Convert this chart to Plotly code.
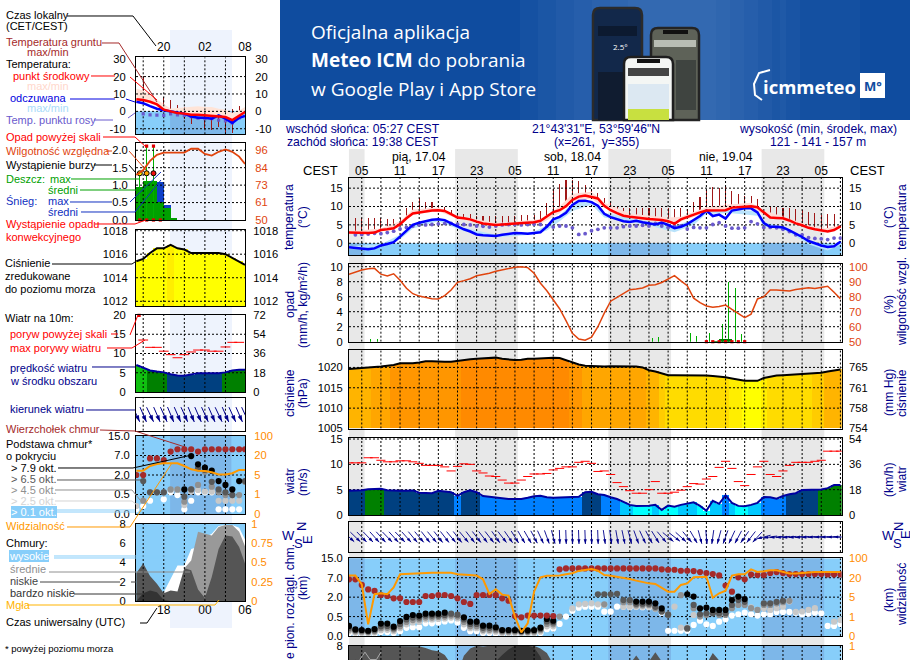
import math
import plotly.graph_objects as go

W, H = 910, 660
FONT = "Liberation Sans"
NAVY = "#00008B"
SKY = "#87CEFA"
SKY_NIGHT = "#7DB7E9"
ORANGE = "#FF8C00"
RH_COL = "#E0440E"
TICK = 11.2
LEG = 11

# ---------- main meteogram data (hourly, hour 0 = 05:00 CEST 17.04) ----------
hours = list(range(-2, 76))
hour_ticks = list(range(0, 73, 6))
hour_labels = ["05", "11", "17", "23", "05", "11", "17", "23", "05", "11", "17", "23", "05"]
grid_hours = list(range(0, 76, 3))
night_spans = [(-2, 0.45), (14.63, 24.45), (38.63, 48.45), (62.63, 72.45)]

temp_mid = [2.9,2.8,2.8,2.8,2.9,3.6,3.8,4.1,5.2,6.8,8.1,8.4,8.7,8.9,9.0,8.8,7.9,7.0,6.8,6.5,5.9,5.4,5.2,5.0,5.1,5.2,5.3,5.4,5.5,5.7,6.1,7.2,8.5,9.0,10.1,11.8,12.7,13.0,12.7,12.2,10.2,9.0,8.2,7.5,7.2,7.1,6.8,6.6,6.5,6.3,6.0,5.3,6.5,7.2,7.8,8.4,8.9,9.0,9.0,9.0,9.7,9.9,10.0,10.1,9.8,8.5,7.0,6.9,6.8,6.2,5.4,4.9,4.2,3.8,3.4,3.2,3.6,4.6]
temp_feel = [-1.1,-1.3,-1.3,-1.6,-1.4,-0.6,-0.2,0.3,1.8,3.4,5.0,5.6,6.1,6.4,6.5,6.3,5.4,4.5,3.8,3.2,2.4,2.2,2.1,2.0,2.3,2.6,2.8,2.7,2.6,2.8,3.0,4.5,6.5,7.2,8.3,10.4,11.5,11.6,11.2,10.2,8.0,7.1,6.6,6.0,5.8,6.1,5.7,5.4,5.1,5.6,5.0,4.1,4.5,5.2,6.2,7.4,8.9,7.4,7.8,6.7,8.9,9.2,9.5,9.5,8.4,5.5,4.5,4.5,4.3,3.5,2.7,1.7,0.6,-0.1,-0.6,-1.0,-0.8,0.4]
temp_dew = [None,2.3,2.4,2.5,2.7,2.6,2.9,3.3,3.9,4.3,4.7,5.0,5.0,5.1,5.3,5.4,5.4,5.2,5.1,5.0,4.7,4.6,4.4,4.7,5.0,5.1,5.1,5.0,5.1,5.2,5.1,4.7,4.4,4.7,4.7,4.2,2.4,2.6,3.4,3.8,4.2,4.2,4.2,4.5,4.7,4.7,4.9,4.7,5.4,4.7,4.3,4.7,4.7,3.9,4.3,4.2,4.2,5.1,5.6,4.7,4.1,4.1,4.2,5.9,5.3,4.3,4.3,4.2,3.8,3.2,2.3,2.3,1.5,1.3,1.2,1.0,1.4,1.4]
ground_top = [None,7.0,7.0,7.0,7.0,7.0,6.5,6.7,7.0,9.5,11.3,12.2,11.1,11.1,10.4,10.0,9.0,8.2,7.9,8.0,7.3,7.5,7.5,7.3,7.5,7.5,7.5,7.7,7.7,7.7,8.9,11.0,14.7,16.0,17.2,17.2,17.0,15.9,14.5,13.6,12.2,11.3,10.0,9.7,9.5,9.7,9.5,9.5,9.7,9.5,9.5,9.3,9.5,9.2,11.3,12.5,14.5,15.4,15.0,15.6,14.1,13.5,12.8,12.9,12.0,None,10.1,9.8,9.5,9.5,9.2,9.0,8.6,8.3,7.7,8.0,8.0,None]
red_band_h = [-2,3,6,8,12,15,21,28,31,33,36,38,42,48,50,54,57,61,63,66,72,75.2]
red_band_hi = [3.3,4.0,6.0,9.2,9.7,7.5,5.5,6.5,10.0,13.5,14.0,11.0,8.0,7.0,7.2,9.8,10.5,11.0,9.0,7.3,3.8,5.0]
red_band_lo = [2.6,3.3,4.8,7.8,8.7,6.7,4.7,5.3,8.2,11.3,12.2,9.6,6.8,5.7,5.9,8.4,8.6,9.8,7.6,6.4,2.9,4.3]
blue_band_h = [-2,3,6,8,12,16,21,27,29,31,33,36,38,45,49,52,54,58,62,63,66,70,73,75.2]
blue_band_hi = [-0.8,-0.3,2.3,5.3,6.8,4.2,2.3,3.1,4.9,7.6,10.8,11.6,8.3,5.8,4.7,6.5,9.1,9.1,8.8,5.7,4.6,0.9,-0.7,0.7]
blue_band_lo = [-1.5,-0.9,1.0,4.0,6.0,3.3,1.6,2.4,3.5,6.0,8.8,10.5,7.0,4.8,3.0,5.0,8.0,8.2,7.5,4.5,3.8,-0.3,-2.0,-0.3]

rel_hum = [95,96.5,97.8,98.7,98.9,95,93.8,95.3,91,85.6,82,80.4,79.3,78.6,78.5,80.7,84.4,89.6,90.7,92,94,94.6,95.7,97,98,99,99.6,100,99.4,95.6,89,84,78,72,64,55.6,51.8,51,53,60,69,77,79.5,82,84.7,85.2,85.8,87.6,88,89.5,92,94,90.5,87.3,79,76,73.8,72.9,73.4,74.4,71.5,68.6,66,68.4,78.5,80,84.4,84.5,84.2,83.8,84.8,85.5,86,85.4,86,87,83,78.6]
rain_hours = [1.4,2.5,3.5,45.5,46.5,47.5,51.5,52.5,54.5,55.5,56.5,57.5,58.5,59.5]
rain_max = [0.4,0.4,0.1,0.45,0.65,0.45,1.1,0.8,1.1,2.1,2.4,8.0,7.2,1.0]
rain_mean_hours = [55.5,56.5,57.5]
rain_mean = [0.1,0.3,0.3]
conv_hours = [54,55,56,57,58,59,60]
conv_level = [0,0,0,0,0,0,0]

pressure = [1019.6,1019.7,1019.8,1019.9,1020,1020.2,1020.4,1020.6,1021,1021,1021,1021.2,1021.5,1021.5,1021.4,1021.4,1021.4,1021.6,1021.9,1022,1022.1,1022.2,1022.3,1022.4,1022.1,1021.9,1021.8,1021.9,1022.1,1022.1,1022.2,1022.3,1022.4,1022.3,1021.8,1021.2,1020.7,1020.4,1020.3,1020.2,1020.2,1020.3,1020.3,1020.3,1020.2,1020.2,1020.0,1019.3,1019.0,1018.6,1018.1,1018.1,1018.1,1018.1,1018.1,1018,1018,1017.9,1017.8,1017.6,1017.3,1017,1016.7,1016.7,1016.7,1017.4,1017.7,1018,1018.1,1018.2,1018.3,1018.4,1018.4,1018.5,1018.7,1019,1019.2,1019.5]
wind = [4.8,4.85,4.87,5.1,5.1,5.2,4.9,4.8,4.8,4.8,4.85,4.4,4.3,4.3,4.8,4.6,4.5,3.8,4.5,4.9,4.5,3.75,3.6,3.4,3.2,3.15,3.15,3.15,3.4,3.7,3.8,3.5,3.4,3.45,3.5,3.6,3.6,4.5,4.6,4.1,3.95,3.5,3.15,2.6,2.0,1.8,1.8,1.85,2.0,1.0,1.85,1.65,2.0,2.2,2.5,1.8,0.85,2.8,2.2,3.9,2.4,1.8,1.75,2.0,2.4,3.55,3.5,3.2,3.75,4.1,4.3,4.95,4.95,4.95,5.05,5.3,5.9,5.9]
gust = [10.3,10.3,10.3,11.3,11.3,10.8,10.5,10.5,10.7,10.7,10.5,10.2,9.8,9.8,9.8,9.5,8.7,9.6,10.1,10.0,8.7,8.3,7.7,7.6,6.9,6.3,6.3,6.9,7.6,8.1,8.1,8.2,8.9,9.2,9.5,9.5,10.4,10.6,10.2,8.6,8.7,8.0,6.4,5.6,4.8,4.3,4.3,5.0,6.6,4.3,4.3,4.5,4.9,5.6,6.2,6.1,7.1,7.6,9.4,10.6,9.2,6.6,5.8,8.0,9.5,10.6,8.0,7.6,8.7,9.8,10.4,10.4,10.4,10.6,10.8,12.6,12.6,12.6]
wind_dir = [312,314,316,316,318,318,316,318,316,318,320,320,322,320,322,322,320,322,320,322,322,322,322,325,322,325,328,330,330,332,335,340,345,358,358,358,358,358,358,358,352,352,350,348,345,340,335,332,328,320,310,308,312,320,330,345,355,8,15,20,25,28,35,38,42,75,82,85,85,85,86,86,87,88,89,90,91,92]

vis_pos = [3.11,3.11,2.66,0.6,2.15,2.2,2.15,2.5,3.18,3.2,3.2,3.22,3.23,3.25,3.26,3.26,3.26,3.18,3.15,3.13,3.11,2.92,2.16,2.4,2.13,2.08,1.0,0.19,0.65,2.28,3.02,3.1,3.1,3.12,3.18,3.23,3.35,3.4,3.45,3.36,3.14,3.1,3.05,3.0,2.93,2.85,2.78,2.71,2.68,2.5,2.28,2.28,2.63,2.71,3.02,3.04,3.05,1.97,2.2,2.33,3.11,3.18,3.18,3.43,3.3,3.33,3.38,3.38,3.3,3.22,3.22,3.25,3.3,3.3,3.3,3.3,3.3,3.3]
cloud_top = [2.92,2.92,2.63,2.4,2.32,2.11,2.06,1.94,1.94,1.75,1.75,1.75,2.06,2.06,2.11,2.11,2.06,1.94,1.75,1.65,2.11,2.11,2.11,2.11,1.94,1.82,1.03,0.96,1.05,1.05,1.05,1.05,1.03,3.43,3.48,3.48,3.48,3.48,3.48,3.48,3.48,3.48,3.48,3.48,3.48,3.48,3.48,3.48,3.48,3.43,3.41,3.41,3.36,3.36,3.34,3.29,3.24,3.19,3.12,2.6,2.28,3.02,2.92,3.16,3.14,3.14,3.24,3.29,3.24,3.19,3.19,3.19,3.19,3.19,3.19,3.17,3.17,3.17]
base_79 = [.52,.34,.31,.27,.36,.64,.64,.48,.77,.98,1.08,1.05,1.15,1.15,1.15,1.2,None,None,.96,.74,.74,.53,.53,.45,.31,.31,.31,.27,.29,.31,.43,.88,.79,None,None,None,None,None,None,None,None,None,None,None,None,1.77,1.77,1.77,1.68,1.42,None,None,None,2.15,2.03,1.42,1.46,1.34,1.34,1.34,1.85,2.03,1.9,None,None,None,None,None,None,None,None,None,None,None,None,None,None,None]
base_65 = [.42,.3,.27,.24,.3,.5,.52,.4,.62,.85,.95,.95,1.05,1.05,1.05,1.08,1.15,1.1,.85,.62,.62,.42,.42,.38,.27,.27,.27,.24,.25,.27,.36,.75,.7,None,None,None,None,None,None,2.15,2.15,2.15,2.17,1.85,1.85,1.66,1.66,1.66,1.5,1.26,1.1,None,None,.39,1.6,1.12,1.17,1.17,1.17,1.17,1.6,1.85,1.76,None,None,1.68,1.68,1.76,1.81,None,None,None,None,None,None,None,None,None]
base_45 = [.32,.24,.22,.2,.24,.4,.42,.33,.5,.72,.82,.85,.95,.95,.98,1.0,1.05,1.0,.72,.5,.5,.32,.32,.3,.22,.22,.22,.2,.2,.22,.3,.62,.6,1.0,None,None,None,None,None,None,1.63,None,None,1.74,1.74,1.58,1.58,1.6,1.42,1.26,1.1,None,2.1,.39,1.43,1.0,1.08,1.17,1.08,1.08,1.43,1.6,1.6,1.43,1.34,1.6,1.6,1.68,1.74,1.81,None,None,None,None,None,None,None,None]
base_25 = [.24,.17,.15,.14,.18,.3,.32,.25,.4,.6,.7,.72,.85,.85,.88,.9,.95,.9,.6,.4,.4,.24,.24,.22,.16,.16,.16,.14,.14,.16,.22,.5,.5,None,None,1.42,1.63,1.65,1.68,1.63,1.6,None,None,1.51,1.51,1.51,1.51,1.51,1.42,1.26,None,1.51,.43,.43,1.08,1.08,None,None,None,None,None,None,None,1.47,1.34,1.43,1.34,1.43,1.51,1.78,1.24,1.26,1.34,1.43,None,None,.74,.82]
base_01 = [.14,.1,.08,.06,.1,.2,.2,.15,.25,.42,.45,.45,.65,.65,.7,.75,.8,.7,.42,.25,.25,.15,.15,.12,.1,.1,.1,.08,.08,.1,.15,.35,.38,.62,1.0,1.3,1.46,1.51,1.51,1.51,1.25,1.25,1.51,1.51,1.48,1.51,1.48,1.48,1.42,1.2,.27,.27,.27,.27,.57,.79,.6,.52,.74,.86,1.05,1.12,1.2,1.12,1.05,1.12,1.12,1.24,1.24,1.24,1.2,1.12,1.15,1.2,1.17,.52,.52,.62]
low_cloud = [8,8,8,8,8,8,8,8,8,8,8,7.95,7.75,7.5,7.4,7,6,5,6.9,7.7,8,7.9,8,8,8,8,8,8,8,8,7.7,7.2,6,5,4,4,3,3,3,3,3,3,4,5,6,6.95,6,6.3,7.3,6.3,5,4,4,4,4,5,6,7.2,6,5,4,4,4,3,3,3,3,3,3,3,3,3,3,3,3,3,3,3]
vlow_cloud = [0,6.5,5,0,0,0,0,0,0,0,0,0,0,0,0,0,0,0,0,0,0,0,5,6.3,7,7.6,8,8,8,7.8,6.8,5,0,0,0,0,0,0,0,0,0,0,0,0,0,0,0,0,0,0,0,0,0,0,0,0,0,0,0,0,0,0,0,0,0,0,0,0,0,0,0,0,0,0,0,0,0,0]
strip_mid_h = [-0.3,0.5,1.3,2.3,3.0]
strip_mid = [6.5,7.3,6.5,6.5,7.3]

# ---------- side legend panels (hours since 16:00 local) ----------
l_hours = [0,1,2,3,4,5,6,7,8,9,10,11,12,13,14,15,15.85]
l_grid = [1,4,7,10,13]
l_night = (4.93, 13.86)
l_temp = [7,6.5,5.5,4,1,0,-1,-1.3,-2,-2,-2.3,-2.3,-3,-3.3,-5,-2.3,-0.4]
l_feel = [5.5,4.7,3,1.5,0.6,0,-1,-1.3,-3,-3.7,-3.7,-4.2,-2.3,-4.2,-6.7,-3.7,-2.7]
l_dew = [None,-1.5,-2,-2.2,-2.3,-1.5,-2,-2.3,-3,-3.9,-4.2,-4.2,-5,-5.5,-6.7,-3.7,None]
l_ground_top = [None,20.5,18.8,13.7,8.3,6.4,3.5,2.6,2.6,1.6,1.6,0.6,0.6,1.6,1.6,2.9,None]
l_ground_low = [None,5.5,5.5,4,1,-1.3,-2.3,-4.2,-7,-8,-10,-11,-9,-13,-12.5,-3.3,None]
l_temp_hi = [13,12,9.5,7,4.5,1.5,2,2.4,2.9,2.9,2.5,2.5,1.5,0.9,-1,0.5,2.5]
l_rh = [79.7,83,89,93,94.5,94.5,94.5,94.5,97,97,93.6,92.5,95,96.5,95,91.8,87]
l_rain_h = [0.5,1.5,2.5,3.5,4.5,5.5]
l_rain = [0.96,1.12,1.12,0.53,0.33,0.07]
l_snow = [0,0,0,0.55,0.1,0]
l_rain_max_h = [0.5,1.5,2.5]
l_rain_max = [1.34,2.1,2.1]
l_over_h = [1.5,2.5]
l_over = [2.12,2.12]
l_storm_h = [0.5,1.5,2.5]
l_storm = [1.34,1.34,1.34]
l_storm_col = ["#FFF000","#FFA500","#F01010"]
l_conv_h = [0.5,1.5,2.5,3.5]
l_conv = [0,0,0,0]
l_press = [1015.4,1015.6,1016.1,1016.5,1016.5,1016.8,1016.5,1016.4,1016.1,1016.1,1016.1,1016.1,1016.1,1016,1015.7,1015.4,1015.1]
l_wind = [7,6.2,5.6,5.3,5.1,4.6,4.3,4.2,4.5,4.9,4.9,4.9,4.9,5.1,5.6,5.8,5.8]
l_gust = [None,13.5,11.6,11.6,10.6,9.7,8.9,9.7,10.4,10.9,10.9,10.6,10.6,11.7,12.9,12.9,None]
l_gust_over_h = [0.4]
l_gust_over = [19.9]
l_dir = [335,336,334,336,335,337,336,335,337,336,335,336,334,336,335,336,335]
l_vis = [2.22,2.22,2.46,2.56,2.6,2.6,2.6,2.46,2.29,2.22,2.2,2.14,2.03,2.03,2.09,2.26,2.26]
l_top = [2,2,2.85,2.85,2.77,3.2,3.32,3.32,3.32,3.2,3.32,3.32,3.32,3.32,3.32,3.32,3.32]
l_79 = [None,None,None,None,None,None,None,1.26,2.97,2.55,2.38,2.22,1.69,1.49,1.26,1.69,None]
l_65 = [None,1.69,1.11,1.11,1.11,None,None,0.89,1.26,2.35,2.26,1.65,1.26,1.11,0.97,None,1.69]
l_45 = [None,0.68,1.11,1.11,1.11,1.26,1.26,0.63,1.26,1.49,2.17,1.4,1.11,0.97,0.97,0.97,1.65]
l_25 = [0.41,0.68,None,None,None,1.23,1.23,0.46,1.15,1.23,1.15,1.15,0.68,0.68,0.68,0.68,None]
l_01 = [0.24,0.41,0.68,None,0.75,1.11,0.97,0.24,0.68,1.11,1.11,1.11,0.24,0.24,0.24,0.24,None]
l_high = [0,0,0,0,0.9,2.3,3.7,3.7,5.4,5.6,6.6,7.0,7.8,7.9,7.9,7.6,6.4]
l_mid = [0,0,0,0,0,0,0,3.4,4.2,7.2,7,6.8,7.7,7.9,7.9,7.2,5.7]
l_low = [2.9,3.9,2.6,1.8,0.8,1.1,1.0,3.4,3.2,1.2,0.3,2.5,5.4,6.8,6.7,5.6,3.9]
l_vlow = [0,0.8,1.1,0.9,0.1,0,0,0,0,0,0,0,0,0,0,0,0]
l_fog_h = [12,13,14,15]
l_fog = [1.1,1.1,1.1,1.1]

for series in (temp_mid,temp_feel,temp_dew,ground_top,rel_hum,pressure,wind,gust,wind_dir,vis_pos,cloud_top,
               base_79,base_65,base_45,base_25,base_01,low_cloud,vlow_cloud):
    assert len(series) == 78, len(series)

# ---------- helpers ----------
fig = go.Figure()
shapes, notes, layout = [], [], {}
counter = [1]

def fx(p): return p / W
def fy(p): return 1 - p / H

def panel(l, t, r, b, xr, yr, yv=None, yt=None, rv=None, rt=None, rcol="black", xv=None, xt=None,
          xside="bottom", lgap=3, rgap=3, xstand=0):
    counter[0] += 1
    n = counter[0]
    m = n + 30
    font = dict(family=FONT, size=TICK, color="black")
    layout[f"xaxis{n}"] = dict(domain=[l/W, r/W], range=xr, anchor=f"y{n}", showgrid=False, zeroline=False,
        showline=True, mirror=True, linecolor="black", linewidth=1, side=xside,
        tickvals=xv or [], ticktext=xt or [], ticks="", ticklen=0, ticklabelstandoff=xstand,
        tickfont=dict(family=FONT, size=TICK+0.8, color="black"), fixedrange=True, tickangle=0)
    layout[f"yaxis{n}"] = dict(domain=[1-b/H, 1-t/H], range=yr, anchor=f"x{n}", showgrid=False, zeroline=False,
        showline=True, mirror=True, linecolor="black", linewidth=1,
        tickvals=yv or [], ticktext=yt or [], ticks="outside", ticklen=lgap, tickcolor="rgba(0,0,0,0)",
        tickfont=font, fixedrange=True)
    layout[f"yaxis{m}"] = dict(domain=[1-b/H, 1-t/H], range=yr, anchor=f"x{n}", overlaying=f"y{n}", side="right",
        showgrid=False, zeroline=False, showline=False,
        tickvals=rv or [], ticktext=rt or [], ticks="outside", ticklen=rgap, tickcolor="rgba(0,0,0,0)",
        tickfont=dict(family=FONT, size=TICK, color=rcol), fixedrange=True)
    fig.add_trace(go.Scatter(x=[None], y=[None], xaxis=f"x{n}", yaxis=f"y{m}", hoverinfo="skip", showlegend=False))
    return dict(x=f"x{n}", y=f"y{n}", xr=xr, yr=yr)

def tr(p, **kw):
    kw.setdefault("hoverinfo", "skip")
    kw.setdefault("showlegend", False)
    fig.add_trace(go.Scatter(xaxis=p["x"], yaxis=p["y"], **kw))

def bars(p, x, y, color, width=1.0, base=None):
    fig.add_trace(go.Bar(x=x, y=y, base=base, width=width, xaxis=p["x"], yaxis=p["y"], hoverinfo="skip", showlegend=False,
                         marker=dict(color=color, line=dict(width=0))))

def grid(p, xs=(), ys=()):
    gx, gy = [], []
    for v in xs:
        gx += [v, v, None]; gy += [p["yr"][0], p["yr"][1], None]
    for v in ys:
        gx += [p["xr"][0], p["xr"][1], None]; gy += [v, v, None]
    tr(p, x=gx, y=gy, mode="lines", line=dict(color="black", width=1, dash="2px,2px"))

def band(p, x, hi, lo, color):
    tr(p, x=list(x)+list(x)[::-1], y=list(hi)+list(lo)[::-1], mode="lines", fill="toself", fillcolor=color, line=dict(width=0))

def area(p, x, y, color):
    ym = p["yr"][0]
    tr(p, x=[x[0]]+list(x)+[x[-1]], y=[ym]+list(y)+[ym], mode="lines", fill="toself", fillcolor=color, line=dict(width=0))

def rect(p, x0, x1, y0, y1, color):
    shapes.append(dict(type="rect", xref=p["x"], yref=p["y"], x0=x0, x1=x1, y0=y0, y1=y1,
                       fillcolor=color, line=dict(width=0), layer="below"))

def dots(p, x, y, color, size=6.2):
    tr(p, x=x, y=y, mode="markers", marker=dict(color=color, size=size, line=dict(width=0)))

def arrows(p, x, dirs, length, pxh, size, lw=1):
    lx, ly, hx, hy, ang = [], [], [], [], []
    for h, d in zip(x, dirs):
        to = math.radians(d + 180)
        sx, sy = math.sin(to) * length / 2, math.cos(to) * length / 2
        lx += [h - sx / pxh, h + sx / pxh, None]
        ly += [-sy, sy, None]
        hx.append(h + sx / pxh); hy.append(sy); ang.append((d + 180) % 360)
    tr(p, x=lx, y=ly, mode="lines", line=dict(color=NAVY, width=lw), cliponaxis=False)
    tr(p, x=hx, y=hy, mode="markers", cliponaxis=False,
       marker=dict(symbol="arrow", angle=ang, size=size, color=NAVY, line=dict(width=0)))

def T(x, y, s, color="black", size=LEG, anchor="left", angle=0, bold=False, bg=None, fam=FONT):
    if bold: s = f"<b>{s}</b>"
    d = dict(xref="paper", yref="paper", x=fx(x), y=fy(y), text=s, showarrow=False, xanchor=anchor, yanchor="middle",
             font=dict(family=fam, size=size, color=color), textangle=angle, borderpad=0, borderwidth=0)
    if bg: d["bgcolor"] = bg
    notes.append(d)

def line(color, *pts, width=1):
    path = "M" + " L".join(f"{fx(a):.5f},{fy(b):.5f}" for a, b in pts)
    shapes.append(dict(type="path", path=path, xref="paper", yref="paper", line=dict(color=color, width=width), layer="above"))

def prect(x0, y0, x1, y1, color, layer="below"):
    shapes.append(dict(type="rect", xref="paper", yref="paper", x0=fx(x0), x1=fx(x1), y0=fy(y1), y1=fy(y0),
                       fillcolor=color, line=dict(width=0), layer=layer))

def phone(x0, y0, x1, y1, fill, edge):
    r = 7
    path = (f"M{fx(x0):.5f},{fy(y1):.5f} L{fx(x0):.5f},{fy(y0+r):.5f} Q{fx(x0):.5f},{fy(y0):.5f} {fx(x0+r):.5f},{fy(y0):.5f} "
            f"L{fx(x1-r):.5f},{fy(y0):.5f} Q{fx(x1):.5f},{fy(y0):.5f} {fx(x1):.5f},{fy(y0+r):.5f} L{fx(x1):.5f},{fy(y1):.5f} Z")
    shapes.append(dict(type="path", path=path, xref="paper", yref="paper", fillcolor=fill,
                       line=dict(color=edge, width=2.5), layer="below"))

def press_col(p):
    for lim, c in ((1016.75,"#FFFF00"),(1017.5,"#FFEE00"),(1018.5,"#FFDC00"),(1019,"#FFCC00"),(1020,"#FFB400"),
                   (1020.5,"#FFA600"),(1021.7,"#FF9600")):
        if p < lim: return c
    return "#FF8A00"

def wind_col(v):
    for lim, c in ((2,"#00FFFF"),(3,"#00C8FF"),(4,"#0080FF"),(5,"#004080"),(6,"#008000")):
        if v < lim: return c
    return "#10C010"

# ---------- page background: night bands & banner ----------
mx = lambda h: 361.7 + h * 6.385
for a, b in night_spans:
    prect(mx(a), 149, mx(b), 660, "#E8E8E8")
prect(170, 30, 232, 628, "#EEF3FD")

prect(280, 0, 910, 120, "#0F4C9F")
for i in range(7):
    prect(520 + i*18, 0, 800 - i*14, 120, "rgba(110,160,215,0.07)")
prect(780, 0, 860, 120, "rgba(110,160,215,0.05)")
phone(593, 8, 642, 120, "#12284A", "#2B2B2B")
prect(598, 26, 637, 36, "#0C1A30")
prect(598, 72, 637, 120, "#101C30")
phone(651, 28, 699, 120, "#5E6258", "#242424")
prect(663, 30, 688, 34, "#111111")
prect(654, 40, 696, 47, "#B8BDB4")
prect(676, 60, 696, 110, "#3F4440")
phone(624, 57, 673, 120, "#F4F6F4", "#1E1E1E")
prect(637, 59, 660, 63, "#111111")
prect(628, 68, 669, 76, "#444444")
prect(628, 84, 669, 109, "#DCE8F2")
prect(628, 109, 669, 120, "#C8E040")
T(613, 47, "2.5°", "#FFFFFF", 8, fam="Open Sans")
BF = "Open Sans"
T(311, 32, "Oficjalna aplikacja", "white", 19, fam=BF)
T(311, 60, "<b>Meteo ICM</b> do pobrania", "white", 19, fam=BF)
T(311, 89, "w Google Play i App Store", "white", 19, fam=BF)
T(763, 86, "<b>icmmeteo</b>", "white", 18.5, fam=BF)
prect(860, 73, 885, 98, "white")
T(872.5, 86, "<b>M°</b>", "#0F4C9F", 13, anchor="center", fam=BF)
line("white", (770, 70), (759, 73), (754, 84), (755, 95), (762, 100), width=2)

# ---------- main panels ----------
MX = [-2, 75.2]
p = panel(349, 177.5, 841.7, 255, MX, [-3.2, 17.9], [0,5,10,15], ["0","5","10","15"], [0,5,10,15], ["0","5","10","15"],
          xv=hour_ticks, xt=hour_labels, xside="top", lgap=3, rgap=4, xstand=-3)
rect(p, MX[0], MX[1], -3.2, 0, SKY)
for a, b in night_spans: rect(p, a, b, -3.2, 0, SKY_NIGHT)
band(p, red_band_h, red_band_hi, red_band_lo, "#FFDCD6")
band(p, blue_band_h, blue_band_hi, blue_band_lo, "#B9E3FB")
grid(p, grid_hours, [0,5,10,15])
bars(p, hours, [None if t is None else t-m for t, m in zip(ground_top, temp_mid)], "#A01818", 0.17, base=temp_mid)
tr(p, x=hours, y=temp_dew, mode="markers", marker=dict(color="#6A5ACD", size=3.8, line=dict(width=0)))
tr(p, x=hours, y=temp_feel, mode="lines", line=dict(color="#0000FF", width=2.5))
tr(p, x=hours, y=temp_mid, mode="lines", line=dict(color="#FF0000", width=2.5))

rh_y = [(v-50)/5 for v in rel_hum]
p = panel(349, 264, 841.7, 341.7, MX, [0, 10.36], [0,2,4,6,8,10], ["0","2","4","6","8","10"],
          [0,2,4,6,8,10], ["50","60","70","80","90","100"], rcol=RH_COL, lgap=3, rgap=4)
grid(p, grid_hours, [2,4,6,8,10])
bars(p, rain_hours, rain_max, "#00B000", 0.12)
bars(p, rain_mean_hours, rain_mean, "#008000", 1.0)
tr(p, x=conv_hours, y=conv_level, mode="markers", marker=dict(color="#E00000", size=3.2, symbol="square"), cliponaxis=False)
tr(p, x=hours, y=rh_y, mode="lines", line=dict(color=RH_COL, width=1.5))

p = panel(349, 350.3, 841.7, 428.5, MX, [1005, 1024.2], [1005,1010,1015,1020], ["1005","1010","1015","1020"],
          [1005,1010,1015,1020], ["754","758","761","765"], lgap=3, rgap=4)
bars(p, hours, [v-1005 for v in pressure], [press_col(v) for v in pressure], 1.0, base=1005)
grid(p, grid_hours, [1010,1015,1020])
tr(p, x=hours, y=pressure, mode="lines", line=dict(color="black", width=2))

p = panel(349, 437.5, 841.7, 515, MX, [0, 15.3], [0,5,10,15], ["0","5","10","15"], [0,5,10,15], ["0","18","36","54"], lgap=3, rgap=4)
bars(p, hours, wind, [wind_col(v) for v in wind], 1.0)
grid(p, grid_hours, [5,10,15])
tr(p, x=hours, y=gust, mode="markers", marker=dict(symbol="line-ew", size=6.5, line=dict(color="#FF0000", width=1)))
tr(p, x=hours, y=wind, mode="lines", line=dict(color="#0000A0", width=2))

p = panel(349, 522, 841.7, 552, MX, [-15, 15])
grid(p, grid_hours)
arrows(p, hours, wind_dir, 14, 6.385, 5, lw=0.9)

p = panel(349, 558.3, 841.7, 636, MX, [0, 4], [0,1,2,3,4], ["0.0","0.5","2.0","7.0","15.0"],
          [0,1,2,3,4], ["0","1","5","20","100"], rcol=ORANGE, lgap=3, rgap=4)
rect(p, MX[0], MX[1], 0, 4, SKY)
for a, b in night_spans: rect(p, a, b, 0, 4, SKY_NIGHT)
grid(p, grid_hours, [1,2,3])
dots(p, hours, base_01, "white")
dots(p, hours, base_25, "#C8C8C8")
dots(p, hours, base_45, "#909090")
dots(p, hours, base_65, "#585858")
dots(p, hours, base_79, "black")
dots(p, hours, cloud_top, "#A52A2A")
tr(p, x=hours, y=vis_pos, mode="lines", line=dict(color="#FF9900", width=2))

p = panel(349, 645.5, 841.7, 660, MX, [6.45, 8.02], [8], ["8"], [8], ["1"], rcol=ORANGE, lgap=3, rgap=4)
rect(p, MX[0], MX[1], 6.45, 8.02, SKY)
for a, b in night_spans: rect(p, a, b, 6.45, 8.02, SKY_NIGHT)
area(p, hours, low_cloud, "#555555")
area(p, hours, vlow_cloud, "#333333")
tr(p, x=strip_mid_h, y=strip_mid, mode="lines", line=dict(color="#AAAAAA", width=1))
grid(p, grid_hours)

# ---------- side panels ----------
LX = [-0.05, 15.85]
p = panel(136, 57.3, 245, 134.3, LX, [-13.2, 31.1], [-10,0,10,20,30], ["-10","0","10","20","30"],
          [-10,0,10,20,30], ["-10","0","10","20","30"], xv=[4,10,15.85], xt=["20","02","08"], xside="top", lgap=7, rgap=7, xstand=1)
rect(p, LX[0], LX[1], -13.2, 0, SKY)
rect(p, l_night[0], l_night[1], -13.2, 0, SKY_NIGHT)
band(p, l_hours, l_temp_hi, l_temp, "#FFE4D8")
grid(p, l_grid, [-10,0,10,20])
bars(p, l_hours, [None if a is None else a-b for a, b in zip(l_ground_top, l_ground_low)], "#A01818", 0.12, base=l_ground_low)
tr(p, x=l_hours, y=l_dew, mode="markers", marker=dict(color="#6A5ACD", symbol="square", size=3.2, line=dict(width=0)))
tr(p, x=l_hours, y=l_feel, mode="lines", line=dict(color="#0000FF", width=2.5))
tr(p, x=l_hours, y=l_temp, mode="lines", line=dict(color="#FF0000", width=2.5))

rh_l = [(v-50)/23 for v in l_rh]
p = panel(136, 143.3, 245, 220, LX, [0, 2.2], [0,0.5,1,1.5,2], ["0.0","0.5","1.0","1.5","2.0"],
          [0,0.5,1,1.5,2], ["50","61","73","84","96"], rcol=RH_COL, lgap=5, rgap=7)
bars(p, l_rain_h, l_rain, "#00A000", 1.0)
bars(p, l_rain_h, l_snow, "#1040C8", 1.0, base=l_rain)
grid(p, l_grid, [0.5,1,1.5,2])
bars(p, l_rain_max_h, l_rain_max, "#00B000", 0.12)
tr(p, x=l_over_h, y=l_over, mode="markers", marker=dict(color="#E00000", size=3.2, symbol="square"))
tr(p, x=l_storm_h, y=l_storm, mode="markers", marker=dict(color=l_storm_col, size=5, line=dict(color="black", width=1)))
tr(p, x=l_conv_h, y=l_conv, mode="markers", marker=dict(color="#E00000", size=3.2, symbol="square"), cliponaxis=False)
tr(p, x=l_hours, y=rh_l, mode="lines", line=dict(color=RH_COL, width=1.8))

p = panel(136, 230.3, 245, 306, LX, [1011.6, 1018.03], [1012,1014,1016,1018], ["1012","1014","1016","1018"],
          [1012,1014,1016,1018], ["1012","1014","1016","1018"], lgap=5, rgap=5)
bars(p, l_hours, [v-1011.6 for v in l_press], [press_col(v) for v in l_press], 1.0, base=1011.6)
grid(p, l_grid, [1012,1014,1016,1018])
tr(p, x=l_hours, y=l_press, mode="lines", line=dict(color="black", width=2))

p = panel(136, 315, 245, 392, LX, [0, 20], [0,5,10,15,20], ["0","5","10","15","20"],
          [0,5,10,15,20], ["0","18","36","54","72"], lgap=7, rgap=5)
bars(p, l_hours, l_wind, [wind_col(v) for v in l_wind], 1.0)
grid(p, l_grid, [5,10,15])
tr(p, x=l_hours, y=l_gust, mode="markers", marker=dict(symbol="line-ew", size=7, line=dict(color="#FF0000", width=1)))
tr(p, x=l_gust_over_h, y=l_gust_over, mode="markers", marker=dict(symbol="square", size=3.2, color="#E00000"), cliponaxis=False)
tr(p, x=l_hours, y=l_wind, mode="lines", line=dict(color="#0000A0", width=2))

p = panel(136, 398.3, 245, 430.7, LX, [-16, 16])
grid(p, l_grid)
arrows(p, l_hours, l_dir, 16, 6.9, 7)

p = panel(136, 436, 245, 514, LX, [0, 4], [0,1,2,3,4], ["0.0","0.5","2.0","7.0","15.0"],
          [0,1,2,3,4], ["0","1","5","20","100"], rcol=ORANGE, lgap=3, rgap=6)
rect(p, LX[0], LX[1], 0, 4, SKY)
rect(p, l_night[0], l_night[1], 0, 4, SKY_NIGHT)
grid(p, l_grid, [1,2,3])
dots(p, l_hours, l_01, "white")
dots(p, l_hours, l_25, "#C8C8C8")
dots(p, l_hours, l_45, "#909090")
dots(p, l_hours, l_65, "#585858")
dots(p, l_hours, l_79, "black")
dots(p, l_hours, l_top, "#A52A2A")
tr(p, x=l_hours, y=l_vis, mode="lines", line=dict(color="#FF9900", width=2))

p = panel(136, 524, 245, 601, LX, [0, 8], [0,2,4,6,8], ["0","2","4","6","8"],
          [0,2,4,6,8], ["0","0.25","0.5","0.75","1"], rcol=ORANGE,
          xv=[4,10,15.85], xt=["18","00","06"], lgap=7, rgap=3, xstand=-2)
rect(p, LX[0], LX[1], 0, 8, SKY)
area(p, l_hours, l_high, "white")
area(p, l_hours, l_mid, "#999999")
area(p, l_hours, l_low, "#555555")
area(p, l_hours, l_vlow, "#333333")
bars(p, l_fog_h, l_fog, "#FFB300", 0.4)
grid(p, l_grid)

# ---------- header & axis titles ----------
HD = 12.2
T(285, 129, "wschód słońca: 05:27 CEST", NAVY, HD)
T(287, 142, "zachód słońca: 19:38 CEST", NAVY, HD)
T(596, 129, "21°43'31\"E, 53°59'46\"N", NAVY, HD, anchor="center")
T(596, 142, "(x=261,  y=355)", NAVY, HD, anchor="center")
T(818, 129, "wysokość (min, środek, max)", NAVY, HD, anchor="center")
T(818, 142, "121 - 141 - 157 m", NAVY, HD, anchor="center")
T(419, 157, "pią, 17.04", size=HD, anchor="center")
T(572, 157, "sob, 18.04", size=HD, anchor="center")
T(726, 157, "nie, 19.04", size=HD, anchor="center")
T(320, 170, "CEST", size=13, anchor="center")
T(867, 170, "CEST", size=13, anchor="center")

for x, y, s in [(289,217,"temperatura"),(303,217,"(°C)"),(290,305,"opad"),(303,305,"(mm/h, kg/m²/h)"),
                (290,393,"ciśnienie"),(303,393,"(hPa)"),(290,482,"wiatr"),(303,482,"(m/s)"),
                (290,602,"e pion. rozciągl. chm."),(303,588,"(km)"),
                (889,217,"(°C)"),(902,217,"temperatura"),(889,305,"(%)"),(902,302,"wilgotność wzgl."),
                (889,393,"(mm Hg)"),(902,393,"ciśnienie"),(889,480,"(km/h)"),(902,480,"wiatr"),
                (889,600,"(km)"),(902,595,"widzialność")]:
    T(x, y, s, NAVY, HD, anchor="center", angle=-90)
for xW, xS, xN, xE, yE in ((288, 298, 301, 307, 540), (888, 897, 898, 905, 535)):
    T(xW, 535, "W", NAVY, 13, anchor="center")
    T(xS, 543, "S", NAVY, 13, anchor="center")
    T(xN, 527, "N", NAVY, 13, anchor="center", angle=-90)
    T(xE, yE, "E", NAVY, 13, anchor="center", angle=-90)

# ---------- legend column ----------
DR = "#A52A2A"; RED = "#FF0000"; GREEN = "#00A000"; BLUE = "#1030C0"; DP = "#6A5ACD"
legend = [
 (6,15,"Czas lokalny","black"),(6,26,"(CET/CEST)","black"),
 (6,42,"Temperatura gruntu",DR),(27,52,"max/min",DR),(6,64,"Temperatura:","black"),
 (13,76,"punkt środkowy",RED),(27,86,"max/min","#FFD8CC"),(10,98,"odczuwana","#0000E0"),(27,108,"max/min","#A8DCFA"),
 (6,120,"Temp. punktu rosy",DP),(6,137,"Opad powyżej skali",RED),(6,151,"Wilgotność względna",RH_COL),
 (6,165,"Wystąpienie burzy","black"),(6,179,"Deszcz:",GREEN),(50,179,"max",GREEN),(48,190,"średni",GREEN),
 (6,201,"Śnieg:",BLUE),(48,201,"max",BLUE),(48,212,"średni",BLUE),
 (6,224,"Wystąpienie opadu",RED),(6,237,"konwekcyjnego",RED),
 (5,263,"Ciśnienie","black"),(5,276,"zredukowane","black"),(5,289,"do poziomu morza","black"),
 (5,318,"Wiatr na 10m:","black"),(10,334,"poryw powyżej skali",RED),(10,348,"max porywy wiatru",RED),
 (10,368,"prędkość wiatru",NAVY),(10,381,"w środku obszaru",NAVY),(10,409,"kierunek wiatru",NAVY),
 (6,429,"Wierzchołek chmur",DR),(6,444,"Podstawa chmur*","black"),(6,456,"o pokryciu","black"),
 (11,468,"> 7.9 okt.","black"),(11,479,"> 6.5 okt.","#585858"),(11,490,"> 4.5 okt.","#909090"),(11,501,"> 2.5 okt.","#D4D4D4"),
 (6,526,"Widzialność","#FF9900"),(6,543,"Chmury:","black"),(10,569,"średnie","#909090"),(10,581,"niskie","#444444"),
 (10,593,"bardzo niskie","#333333"),(6,605,"Mgła","#FFB300"),(6,622,"Czas uniwersalny (UTC)","black"),
]
for x, y, s, c in legend:
    T(x, y, s, c)
T(11, 512, "> 0.1 okt.", "white", bg=SKY)
T(9, 556, "wysokie", "white", bg=SKY)
T(5, 648, "* powyżej poziomu morza", "black", 9.5)

line("black", (67,16), (133,16), (156,46))
line(DR, (102,43), (119,43), (157,102))
line(RED, (91,76), (115,76)); line(RED, (130,77), (157,100))
line("#0000E0", (70,99), (115,99)); line("#0000E0", (126,99), (135,102))
line(DP, (94,120), (113,120)); line(DP, (128,118), (135,113))
line(RED, (103,137), (135,137), (146,147))
line(RH_COL, (106,151), (112,151)); line(RH_COL, (129,151), (146,170))
line("black", (94,165), (112,165)); line("black", (129,165), (136,173))
line(GREEN, (71,179), (139,179)); line(GREEN, (80,190), (140,190))
line(BLUE, (70,202), (112,202)); line(BLUE, (130,202), (161,172))
line(BLUE, (81,212), (135,212), (161,180))
line(RED, (95,224), (135,224), (146,220))
line("black", (52,264), (132,264), (135,262))
line(RED, (111,334), (118,334)); line(RED, (130,335), (138,315))
line(RED, (107,348), (132,348), (145,340))
line(NAVY, (92,367), (135,367)); line(NAVY, (86,410), (135,410))
line(DR, (100,430), (135,431), (185,447))
line("black", (58,468), (133,468), (192,455))
line("#585858", (57,480), (143,480))
line("#909090", (55,490), (132,490), (140,500))
line("#D4D4D4", (55,501), (132,501), (137,505))
line(SKY, (55,510), (135,510)); line(SKY, (55,512), (135,512))
line("#FF9900", (67,527), (130,527), (172,463))
line(SKY, (54,556), (185,556)); line(SKY, (54,558), (185,558))
line("#909090", (49,572), (190,572))
line("#444444", (40,582), (120,582)); line("#444444", (131,582), (136,582))
line("#333333", (74,594), (150,594))
line("#FFB300", (27,605), (215,605), (219,600))
line("black", (140,623), (147,623), (157,608))

layout.update(width=W, height=H, autosize=False, margin=dict(l=0, r=0, t=0, b=0, pad=0, autoexpand=False),
              paper_bgcolor="white", plot_bgcolor="rgba(0,0,0,0)", showlegend=False,
              barmode="overlay", bargap=0, shapes=shapes, annotations=notes,
              font=dict(family=FONT, size=12))
fig.update_layout(**layout)
fig.write_html("out.html", config=dict(displayModeBar=False, staticPlot=True),
               post_script="document.body.style.margin='0';document.body.style.overflow='hidden';")
